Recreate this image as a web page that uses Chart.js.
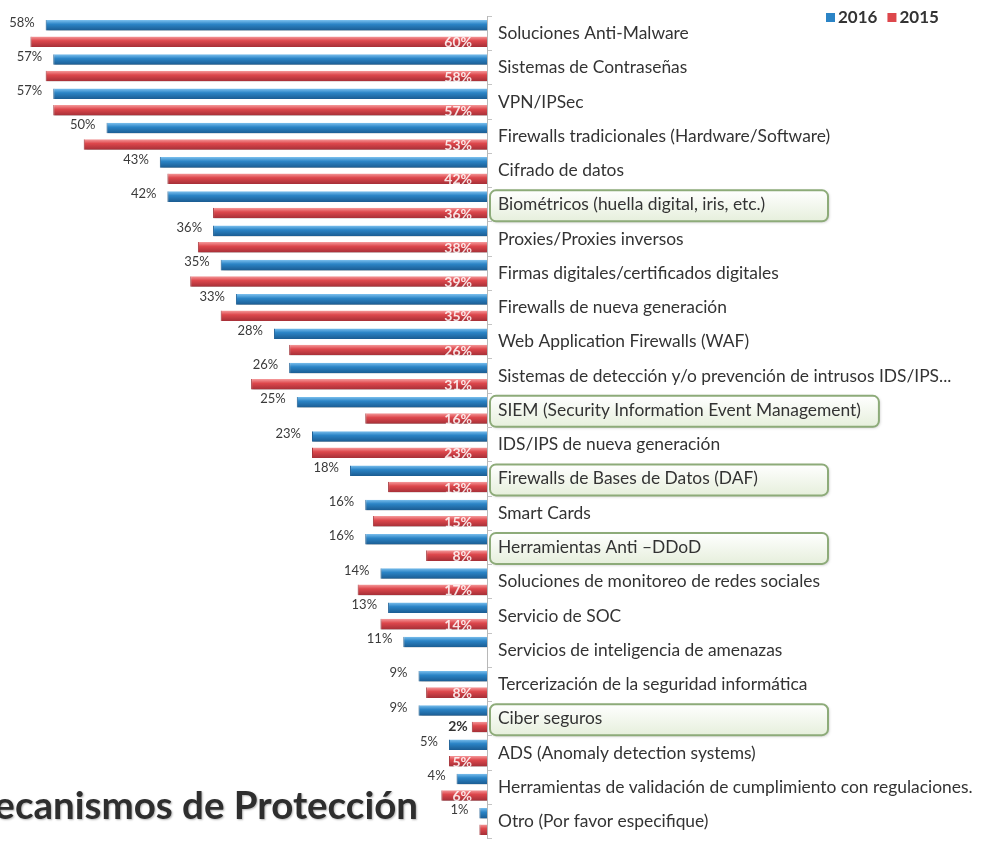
<!DOCTYPE html>
<html>
<head>
<meta charset="utf-8">
<title>Mecanismos de Protección</title>
<script src="https://cdn.jsdelivr.net/npm/chart.js@4.4.1/dist/chart.umd.min.js"></script>
<style>
  html, body { margin: 0; padding: 0; background: #ffffff; }
  #wrap { width: 981px; height: 855px; position: relative; overflow: hidden; }
</style>
</head>
<body>
<div id="wrap"><canvas id="myChart" width="981" height="855"></canvas></div>
<script>
// mecanismos de proteccion, % de respuestas por año
const categorias = [
  "Soluciones Anti-Malware",
  "Sistemas de Contraseñas",
  "VPN/IPSec",
  "Firewalls tradicionales (Hardware/Software)",
  "Cifrado de datos",
  "Biométricos (huella digital, iris, etc.)",
  "Proxies/Proxies inversos",
  "Firmas digitales/certificados digitales",
  "Firewalls de nueva generación",
  "Web Application Firewalls (WAF)",
  "Sistemas de detección y/o prevención de intrusos IDS/IPS...",
  "SIEM (Security Information Event Management)",
  "IDS/IPS de nueva generación",
  "Firewalls de Bases de Datos (DAF)",
  "Smart Cards",
  "Herramientas Anti –DDoD",
  "Soluciones de monitoreo de redes sociales",
  "Servicio de SOC",
  "Servicios de inteligencia de amenazas",
  "Tercerización de la seguridad informática",
  "Ciber seguros",
  "ADS (Anomaly detection systems)",
  "Herramientas de validación de cumplimiento con regulaciones.",
  "Otro (Por favor especifique)"
];
const valores2016 = [58, 57, 57, 50, 43, 42, 36, 35, 33, 28, 26, 25, 23, 18, 16, 16, 14, 13, 11, 9, 9, 5, 4, 1];
const valores2015 = [60, 58, 57, 53, 42, 36, 38, 39, 35, 26, 31, 16, 23, 13, 15, 8, 17, 14, null, 8, 2, 5, 6, 1];
// etiquetas 2015 que no se escriben dentro de la barra
const sinEtiqueta2015 = ["Otro (Por favor especifique)"];
const fueraDeBarra2015 = ["Ciber seguros"];
// opciones nuevas resaltadas con recuadro
const destacados = [
  "Biométricos (huella digital, iris, etc.)",
  "SIEM (Security Information Event Management)",
  "Firewalls de Bases de Datos (DAF)",
  "Herramientas Anti –DDoD",
  "Ciber seguros"
];
const series = ["2016", "2015"];

const AZUL = "#2b84c6";
const ROJO = "#dd474c";
const FUENTE = "Lato, 'Open Sans', sans-serif";
const TAM_ETIQUETA = 17.4;
const CAT_PCT = 0.96;
const BAR_PCT = 0.64;

// degradado vertical por barra para el efecto de relieve
function relieve(colores) {
  return function (context) {
    const chart = context.chart;
    const y = chart.scales && chart.scales.y;
    if (!chart.chartArea || !y || context.dataIndex == null) return colores[1];
    const cat = (y.bottom - y.top) / categorias.length;
    const slot = cat * CAT_PCT / 2;
    const cy = y.getPixelForValue(context.dataIndex) + (context.datasetIndex - 0.5) * slot;
    const h = slot * BAR_PCT;
    const g = chart.ctx.createLinearGradient(0, cy - h / 2, 0, cy + h / 2);
    g.addColorStop(0, colores[0]);
    g.addColorStop(0.4, colores[1]);
    g.addColorStop(1, colores[2]);
    return g;
  };
}

// recuadros verdes detras de las etiquetas destacadas
const recuadros = {
  id: "recuadros",
  beforeDraw(chart) {
    const ctx = chart.ctx;
    const y = chart.scales.y;
    ctx.save();
    ctx.font = TAM_ETIQUETA + "px " + FUENTE;
    destacados.forEach(nombre => {
      const i = categorias.indexOf(nombre);
      if (i < 0) return;
      const cy = y.getPixelForValue(i) + 1;
      const x0 = y.left + 3;
      const w = Math.max(338, ctx.measureText(nombre).width + 26);
      const h = 31;
      const top = cy - h / 2;
      const grad = ctx.createLinearGradient(0, top, 0, top + h);
      grad.addColorStop(0, "#ffffff");
      grad.addColorStop(1, "#e6efdc");
      ctx.beginPath();
      ctx.roundRect(x0, top, w, h, 6);
      ctx.shadowColor = "rgba(0,0,0,0.25)";
      ctx.shadowBlur = 3;
      ctx.shadowOffsetX = 1;
      ctx.shadowOffsetY = 1;
      ctx.fillStyle = grad;
      ctx.fill();
      ctx.shadowColor = "transparent";
      ctx.lineWidth = 2;
      ctx.strokeStyle = "#8dab79";
      ctx.stroke();
    });
    ctx.restore();
  }
};

// sombra bajo las barras, etiquetas de valor, leyenda y titulo
const barrasYTextos = {
  id: "barrasYTextos",
  beforeDatasetsDraw(chart) {
    const ctx = chart.ctx;
    ctx.save();
    ctx.shadowColor = "rgba(60,60,60,0.45)";
    ctx.shadowBlur = 2;
    ctx.shadowOffsetX = 1;
    ctx.shadowOffsetY = 2;
  },
  afterDatasetsDraw(chart) {
    const ctx = chart.ctx;
    ctx.restore();
    ctx.save();

    // 2016: a la izquierda del extremo de la barra
    const meta16 = chart.getDatasetMeta(0);
    ctx.font = "13px " + FUENTE;
    ctx.fillStyle = "#3a3a3a";
    ctx.textAlign = "right";
    ctx.textBaseline = "middle";
    meta16.data.forEach((bar, i) => {
      if (valores2016[i] == null) return;
      ctx.fillText(valores2016[i] + "%", bar.x - 11, bar.y - 3);
    });

    // 2015: blanco dentro de la barra
    const meta15 = chart.getDatasetMeta(1);
    meta15.data.forEach((bar, i) => {
      const v = valores2015[i];
      if (v == null || sinEtiqueta2015.includes(categorias[i])) return;
      ctx.font = "bold 14px " + FUENTE;
      if (fueraDeBarra2015.includes(categorias[i])) {
        ctx.fillStyle = "#333333";
        ctx.fillText(v + "%", bar.x - 4, bar.y);
      } else {
        ctx.fillStyle = "rgba(255,255,255,0.85)";
        ctx.fillText(v + "%", bar.base - 15, bar.y + 1);
      }
    });

    // leyenda arriba a la derecha
    ctx.textAlign = "left";
    ctx.font = "bold 17px " + FUENTE;
    let lx = 826;
    const ly = 18;
    [AZUL, ROJO].forEach((color, k) => {
      ctx.fillStyle = color;
      ctx.fillRect(lx, ly - 5, 9, 9);
      ctx.fillStyle = "#333333";
      ctx.fillText(series[k], lx + 12, ly);
      lx += 12 + ctx.measureText(series[k]).width + 10;
    });

    // titulo, cortado por el borde izquierdo
    ctx.font = "bold 38.5px " + FUENTE;
    ctx.textAlign = "right";
    ctx.textBaseline = "alphabetic";
    ctx.shadowColor = "rgba(0,0,0,0.3)";
    ctx.shadowBlur = 2;
    ctx.shadowOffsetX = 1;
    ctx.shadowOffsetY = 1;
    ctx.fillStyle = "#2e2e2e";
    ctx.fillText("Mecanismos de Protección", 418, 819);
    ctx.restore();
  }
};

const data = {
  labels: categorias,
  datasets: [
    {
      label: series[0],
      data: valores2016,
      backgroundColor: relieve(["#7cc0ee", AZUL, "#1b5c92"]),
      borderColor: "#1d6199",
      borderWidth: { top: 0, bottom: 0, left: 1, right: 0 },
      borderSkipped: false
    },
    {
      label: series[1],
      data: valores2015,
      backgroundColor: relieve(["#f59a9b", ROJO, "#a52f37"]),
      borderColor: "#a9343a",
      borderWidth: { top: 0, bottom: 0, left: 1, right: 0 },
      borderSkipped: false
    }
  ]
};

const config = {
  type: "bar",
  data,
  options: {
    indexAxis: "y",
    responsive: false,
    animation: false,
    categoryPercentage: CAT_PCT,
    barPercentage: BAR_PCT,
    layout: { padding: { top: 11, bottom: 0, left: 0, right: 0 } },
    plugins: {
      legend: { display: false },
      tooltip: { enabled: false }
    },
    scales: {
      x: {
        display: false,
        reverse: true,
        min: 0,
        max: 64
      },
      y: {
        position: "right",
        afterFit(scale) { scale.width = 494; },
        grid: { drawOnChartArea: false, tickLength: 5, color: "#c4c4c4" },
        border: { color: "#b8b8b8" },
        ticks: {
          color: "#333333",
          padding: 6,
          autoSkip: false,
          font: { family: FUENTE, size: TAM_ETIQUETA }
        }
      }
    }
  },
  plugins: [recuadros, barrasYTextos]
};

const myChart = document.getElementById("myChart");
new Chart(myChart, config);
</script>
</body>
</html>
